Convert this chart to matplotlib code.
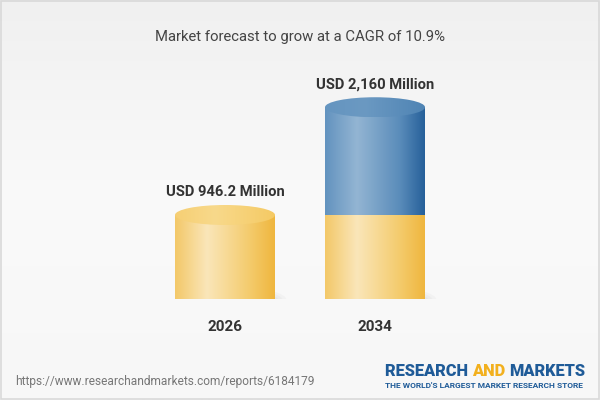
import numpy as np
import matplotlib
matplotlib.use("Agg")
import matplotlib.pyplot as plt
from matplotlib.patches import Ellipse, PathPatch, Rectangle
from matplotlib.path import Path
from matplotlib.colors import LinearSegmentedColormap, to_rgba

# ---- data ----
years = ["2026", "2034"]
base_values = [946.2, 946.2]          # yellow part (2026 level)
totals = [946.2, 2160]                # total market value
value_labels = ["USD 946.2 Million", "USD 2,160 Million"]
title = "Market forecast to grow at a CAGR of 10.9%"
url = "https://www.researchandmarkets.com/reports/6184179"

plt.rcParams['font.family'] = ['Roboto', 'DejaVu Sans']

fig = plt.figure(figsize=(6, 4), dpi=100)

# background
bg = fig.add_axes([0, 0, 1, 1])
grad = np.linspace(0, 1, 256).reshape(-1, 1)
bg_cmap = LinearSegmentedColormap.from_list("bg", ["#f0f0f0", "#fafafa", "#f7f7f7"])
bg.imshow(grad, cmap=bg_cmap, aspect='auto', extent=[0, 1, 0, 1], origin='upper')
bg.add_patch(Rectangle((0.001, 0.002), 0.997, 0.995, fill=False, ec="#d9d9d9", lw=1.2,
                       transform=bg.transAxes))
bg.set_xlim(0, 1); bg.set_ylim(0, 1)
bg.axis('off')

# chart axes: 0 at y=101px from bottom; scale 84px per 946.2
px_per_unit = 84 / 946.2
ymax = 2600
ax = fig.add_axes([150 / 600, 101 / 400, 300 / 600, ymax * px_per_unit / 400])
ax.set_xlim(-0.5, 1.5)
ax.set_ylim(0, ymax)
ax.axis('off')

hw = 50 / 150.0              # half width in x units
eh = 10 / px_per_unit        # ellipse half height in y units

yellow_cmap = LinearSegmentedColormap.from_list(
    "yel", [(0, "#f3c868"), (0.32, "#fae6b9"), (0.75, "#f4cb6c"), (1, "#efb63e")])
blue_cmap = LinearSegmentedColormap.from_list(
    "blu", [(0, "#6393bf"), (0.32, "#93b5d3"), (0.75, "#5a8cba"), (1, "#26609a")])
yellow_top_cmap = LinearSegmentedColormap.from_list(
    "yt", [(0, "#f6cf74"), (0.4, "#f8d98b"), (1, "#f5ca64")])
blue_top_cmap = LinearSegmentedColormap.from_list(
    "bt", [(0, "#6595c0"), (0.4, "#6b99c2"), (1, "#4f84b4")])

hgrad = np.linspace(0, 1, 256).reshape(1, -1)


def body(xc, y0, y1, cmap, bottom_arc):
    t = np.linspace(np.pi, 2 * np.pi, 60)
    verts = [(xc - hw, y1)]
    if bottom_arc:
        verts += [(xc + hw * np.cos(a), y0 + eh * np.sin(a)) for a in t]
    else:
        verts += [(xc - hw, y0), (xc + hw, y0)]
    verts += [(xc + hw, y1), (xc - hw, y1)]
    codes = [Path.MOVETO] + [Path.LINETO] * (len(verts) - 2) + [Path.CLOSEPOLY]
    patch = PathPatch(Path(verts, codes), fc='none', ec='none')
    ax.add_patch(patch)
    im = ax.imshow(hgrad, cmap=cmap, aspect='auto',
                   extent=[xc - hw, xc + hw, y0 - eh, y1 + eh], zorder=2)
    im.set_clip_path(patch)


def top(xc, y, cmap):
    e = Ellipse((xc, y), 2 * hw, 2 * eh, fc='none', ec='none')
    ax.add_patch(e)
    im = ax.imshow(hgrad, cmap=cmap, aspect='auto',
                   extent=[xc - hw, xc + hw, y - eh, y + eh], zorder=3)
    im.set_clip_path(e)


for i in range(len(years)):
    # soft shadow
    for k, a in enumerate([0.05, 0.05, 0.05]):
        ax.add_patch(Ellipse((i + 0.06, -eh * 0.1), 2 * hw * (1.05 - 0.08 * k),
                             2 * eh * (1.3 - 0.2 * k), fc='#888888', ec='none',
                             alpha=a, zorder=1))
    body(i, 0, base_values[i], yellow_cmap, True)
    if totals[i] > base_values[i]:
        body(i, base_values[i], totals[i], blue_cmap, False)
        top(i, totals[i], blue_top_cmap)
    else:
        top(i, totals[i], yellow_top_cmap)
    ax.text(i, totals[i] + eh + 6 / px_per_unit, value_labels[i], ha='center', va='bottom',
            fontsize=10.6, fontweight='bold', color='#333333', zorder=5)
    ax.text(i, -21 / px_per_unit, years[i], ha='center', va='top',
            fontsize=11, fontweight='bold', color='#333333', zorder=5)

# title and footer
fig.text(0.5, 1 - 37 / 400, title, ha='center', va='center', fontsize=10.7, color='#444444')
fig.text(15 / 600, 1 - 381 / 400, url, ha='left', va='center', fontsize=8.6, color='#777777')

# logo
renderer = fig.canvas.get_renderer()
logo_blue = '#1f5b98'
logo_y = 1 - 371 / 400
parts = [("RESEARCH ", logo_blue), ("AND ", '#f2b01e'), ("MARKETS", logo_blue)]
x = 385 / 600
for s, c in parts:
    t = fig.text(x, logo_y, s, ha='left', va='center', fontsize=11.8, fontweight='heavy',
                 color=c)
    bb = t.get_window_extent(renderer)
    x += bb.width / fig.bbox.width
fig.text(484 / 600, 1 - 386 / 400, "THE WORLD'S LARGEST MARKET RESEARCH STORE",
         ha='center', va='center', fontsize=6.0, fontweight='bold', color=logo_blue)

fig.savefig("out.png", dpi=100)
